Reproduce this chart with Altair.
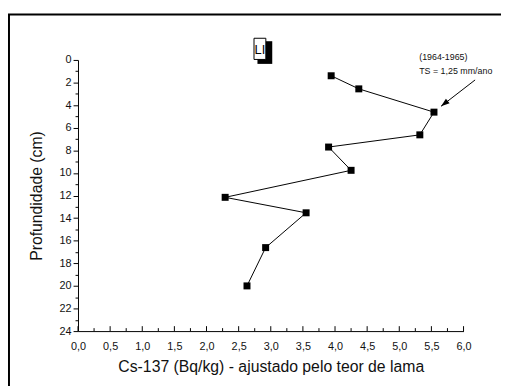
import altair as alt
import pandas as pd

# data
cs137 = [3.94, 4.37, 5.54, 5.32, 3.90, 4.25, 2.29, 3.55, 2.92, 2.63]
depth = [1.40, 2.56, 4.62, 6.63, 7.71, 9.77, 12.16, 13.53, 16.61, 20.0]

x_ticks = [i * 0.25 for i in range(25)]
y_ticks = list(range(0, 25))

note_lines = ["(1964-1965)", "TS = 1,25 mm/ano"]
note_x = [5.31, 5.31]
note_y = [0.0, 1.22]
arrow_from = (6.18, 1.77)
arrow_to = (5.65, 4.10)

df = pd.DataFrame({"cs": cs137, "depth": depth, "order": list(range(len(cs137)))})

W, H = 391, 275
xs = alt.Scale(domain=[0, 6], nice=False, zero=False)
ys = alt.Scale(domain=[0, 24], reverse=True, nice=False, zero=False)

X_AXIS = alt.Axis(
    title="Cs-137 (Bq/kg) - ajustado pelo teor de lama",
    values=x_ticks, ticks=False,
    labelExpr="datum.value % 0.5 === 0 ? replace(format(datum.value, '.1f'), '.', ',') : ''",
    labelOverlap=False,
    labelFont="Liberation Sans", labelFontSize=11, labelColor="#111111",
    labelPadding=10, labelFlush=False,
    titleFont="Liberation Sans", titleFontSize=16, titleFontWeight=400,
    titleColor="#111111", titlePadding=7,
    domainColor="black", domainWidth=1, grid=False)
Y_AXIS = alt.Axis(
    title="Profundidade (cm)",
    values=y_ticks,
    labelExpr="datum.value % 2 === 0 ? datum.label : ''",
    labelOverlap=False,
    tickSize={"condition": {"test": "datum.value % 2 === 0", "value": 5}, "value": 3},
    tickColor="black", tickWidth=1,
    labelFont="Liberation Sans", labelFontSize=11, labelColor="#111111",
    labelPadding=2,
    titleFont="Liberation Sans", titleFontSize=16, titleFontWeight=400,
    titleColor="#111111", titlePadding=15,
    domainColor="black", domainWidth=1, grid=False)


def qx(f):
    return alt.X(f, scale=xs, axis=X_AXIS)


def qy(f):
    return alt.Y(f, scale=ys, axis=Y_AXIS)


base = alt.Chart(df)

line = base.mark_line(color="black", strokeWidth=1).encode(
    x=qx("cs:Q"), y=qy("depth:Q"), order="order:Q"
)

points = base.mark_point(shape="square", filled=True, color="black", size=50, opacity=1).encode(
    x=qx("cs:Q"), y=qy("depth:Q")
)

x_major = [v for v in x_ticks if v % 0.5 == 0]
x_minor = [v for v in x_ticks if v % 0.5 != 0]
xmaj_rules = alt.Chart(pd.DataFrame({"t": x_major})).mark_rule(color="black", strokeWidth=1).encode(
    x=qx("t:Q"), y=alt.value(H), y2=alt.value(H - 5))
xmin_rules = alt.Chart(pd.DataFrame({"t": x_minor})).mark_rule(color="black", strokeWidth=1).encode(
    x=qx("t:Q"), y=alt.value(H), y2=alt.value(H - 3))

notes = alt.Chart(pd.DataFrame({"t": note_lines, "x": note_x, "y": note_y})).mark_text(
    align="left", baseline="alphabetic", font="Liberation Sans", fontSize=9, color="#111111"
).encode(x=qx("x:Q"), y=qy("y:Q"), text="t:N")

arrow_df = pd.DataFrame({"x": [arrow_from[0]], "y": [arrow_from[1]],
                         "x2": [arrow_to[0]], "y2": [arrow_to[1]]})
arrow_line = alt.Chart(arrow_df).mark_rule(color="black", strokeWidth=1).encode(
    x=qx("x:Q"), y=qy("y:Q"), x2="x2:Q", y2="y2:Q"
)
arrow_head = alt.Chart(arrow_df).mark_point(
    shape="M0,0 L-0.35,1 L0.35,1 Z", filled=True, color="black", opacity=1,
    size=300, angle=232
).encode(x=qx("x2:Q"), y=qy("y2:Q"))

# LI label box with shadow
shadow = alt.Chart(pd.DataFrame({"k": [0]})).mark_rect(color="black").encode(
    x=alt.value(182), x2=alt.value(197), y=alt.value(-19), y2=alt.value(4))
box = alt.Chart(pd.DataFrame({"k": [0]})).mark_rect(fill="white", stroke="black", strokeWidth=1).encode(
    x=alt.value(178.5), x2=alt.value(190.5), y=alt.value(-22), y2=alt.value(-0.5))
li = alt.Chart(pd.DataFrame({"t": ["LI"]})).mark_text(
    font="Liberation Sans", fontSize=13, color="black", align="center", baseline="middle"
).encode(x=alt.value(184.5), y=alt.value(-10.5), text="t:N")

frame = alt.Chart(pd.DataFrame({"k": [0]})).mark_rect(fill=None, stroke="black", strokeWidth=2).encode(
    x=alt.value(-70), x2=alt.value(560), y=alt.value(-46), y2=alt.value(420))

chart = alt.layer(
    frame, line, points, xmaj_rules, xmin_rules, notes, arrow_line, arrow_head, shadow, box, li
).properties(
    width=W, height=H,
    autosize=alt.AutoSizeParams(type="none"),
    padding={"left": 71, "top": 50, "right": 38, "bottom": 53},
).configure(background="white").configure_view(stroke=None)

chart.save("out.html", embed_options={"renderer": "svg", "actions": False})
